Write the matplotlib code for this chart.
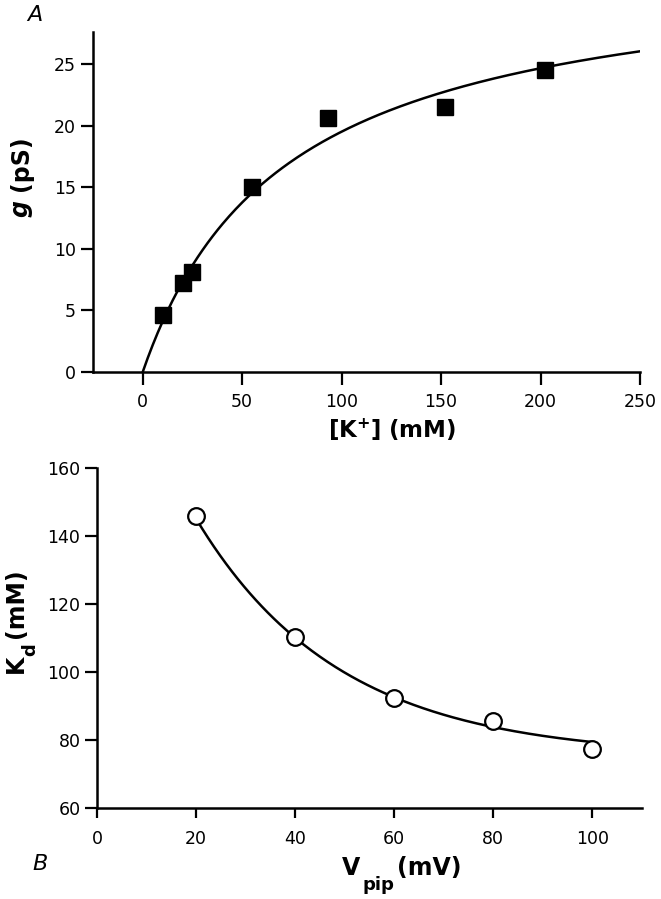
import numpy as np
import matplotlib
matplotlib.use("Agg")
import matplotlib.pyplot as plt

plt.rcParams['font.family'] = ['DejaVu Sans']
plt.rcParams['mathtext.fontset'] = 'dejavusans'

# panel A: conductance vs [K+]
k_conc = [10, 20, 25, 55, 93, 152, 202]
g_ps = [4.6, 7.2, 8.1, 15.0, 20.6, 21.5, 24.5]
g_max = 33.5      # fit parameters
k_half = 71.7

# panel B: Kd vs pipette voltage
v_pip = [20, 40, 60, 80, 100]
kd_mm = [146, 110.3, 92.5, 85.5, 77.5]
kd_inf = 75.0     # exponential fit parameters
kd_amp = 140.0
v_tau = 28.9

fig = plt.figure(figsize=(6.61, 8.99), dpi=100)
W, H = 661, 899


def axes_px(x0, x1, y0, y1):
    return fig.add_axes([x0 / W, 1 - y1 / H, (x1 - x0) / W, (y1 - y0) / H])


def txt(x, y, s, **kw):
    # place text in pixel coords (origin top-left)
    return fig.text(x / W, 1 - y / H, s, **kw)


def style(ax, xlen, ylen, xpad, ypad):
    for s in ['top', 'right']:
        ax.spines[s].set_visible(False)
    for s in ['left', 'bottom']:
        ax.spines[s].set_linewidth(1.8)
    ax.tick_params(direction='out', width=1.6, labelsize=12.5)
    ax.tick_params(axis='x', length=xlen, pad=xpad)
    ax.tick_params(axis='y', length=ylen, pad=ypad)


lab = dict(fontsize=17, fontweight='bold', rotation_mode='anchor',
           ha='left', va='baseline')

# --- A ---
ax1 = axes_px(93, 640, 32, 372)
xs = np.linspace(0, 250, 300)
ax1.plot(xs, g_max * xs / (xs + k_half), color='black', lw=1.8)
ax1.plot(k_conc, g_ps, 's', color='black', ms=12)
ax1.set_xlim(-25, 250)
ax1.set_ylim(0, 27.6)
ax1.set_xticks([0, 50, 100, 150, 200, 250])
ax1.set_yticks([0, 5, 10, 15, 20, 25])
style(ax1, 9.4, 8.6, 6.0, 3.6)

txt(392, 438, r'$\mathbf{[K^{+}]\ (mM)}$', fontsize=16.5, ha='center', va='baseline')
txt(28, 217, 'g', rotation=90, style='italic', **lab)
txt(28, 191, '(pS)', rotation=90, **lab)
txt(35, 15, 'A', fontsize=16, style='italic', ha='center', va='center')

# --- B ---
ax2 = axes_px(97, 642, 468, 808)
vs = np.linspace(20, 100, 200)
ax2.plot(vs, kd_inf + kd_amp * np.exp(-vs / v_tau), color='black', lw=1.8)
ax2.plot(v_pip, kd_mm, 'o', mfc='white', mec='black', mew=1.6, ms=12)
ax2.set_xlim(0, 110)
ax2.set_ylim(60, 160)
ax2.set_xticks([0, 20, 40, 60, 80, 100])
ax2.set_yticks([60, 80, 100, 120, 140, 160])
style(ax2, 7.5, 8.3, 8.0, 3.6)

txt(23, 673, 'K', rotation=90, **lab)
txt(35, 656, 'd', rotation=90, **dict(lab, fontsize=13))
txt(23, 638, '(mM)', rotation=90, **lab)
txt(342, 875, 'V', **lab)
txt(362, 890, 'pip', **dict(lab, fontsize=13))
txt(397, 875, '(mV)', **lab)
txt(40, 864, 'B', fontsize=16, style='italic', ha='center', va='center')

fig.savefig('out.png', dpi=100)
